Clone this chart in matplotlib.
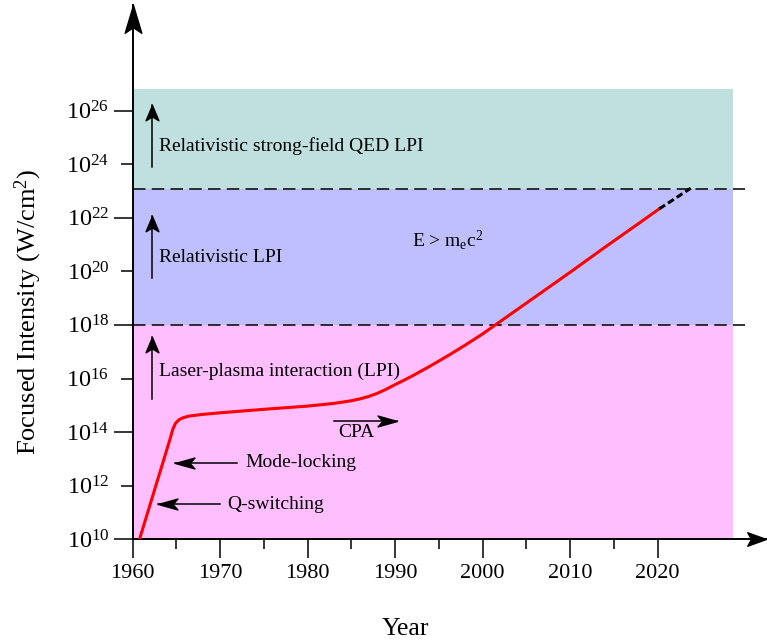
import numpy as np
import matplotlib
matplotlib.use('Agg')
import matplotlib.pyplot as plt
from matplotlib.path import Path
from matplotlib.ticker import FixedLocator, FuncFormatter

plt.rcParams['font.family'] = 'Liberation Serif'
plt.rcParams['mathtext.fontset'] = 'custom'
plt.rcParams['mathtext.rm'] = 'Liberation Serif'
plt.rcParams['mathtext.it'] = 'Liberation Serif:italic'
plt.rcParams['lines.scale_dashes'] = False

# peak focused intensity over time (log10 of W/cm^2)
years = [1960.8, 1964.3, 1964.6, 1964.9, 1965.3, 1965.8, 1966.5, 1968, 1970, 1975,
         1980, 1983, 1985, 1986, 1987, 1988, 1989, 1990, 1991, 1992,
         1994, 1996, 1998, 2000, 2001.3, 2002, 2004, 2006, 2008, 2010,
         2012, 2014, 2016, 2018, 2020.2]
log_intensity = [10.0, 13.75, 14.1, 14.32, 14.46, 14.54, 14.6, 14.66, 14.72, 14.85,
                 14.97, 15.07, 15.17, 15.24, 15.33, 15.45, 15.6, 15.77, 15.93, 16.1,
                 16.46, 16.84, 17.24, 17.66, 17.96, 18.12, 18.58, 19.04, 19.5, 19.96,
                 20.43, 20.9, 21.36, 21.82, 22.33]
proj_years = [2020.2, 2023.8]
proj_log_intensity = [22.33, 23.1]

# regime boundaries
lpi_limit = 18.0
qed_limit = 23.08
region_top = 26.8
region_end = 2028.6
line_end = 2030.0

x_major = [1960, 1970, 1980, 1990, 2000, 2010, 2020]
x_minor = [1965, 1975, 1985, 1995, 2005, 2015]
y_major = [10, 14, 18, 22, 26]
y_minor = [12, 16, 20, 24]


def head(angle, hw=0.3, notch=0.75):
    # stealth arrow head with the tip at the origin
    v = np.array([[0, 0], [-1, hw], [-notch, 0], [-1, -hw], [0, 0]])
    c, s = np.cos(np.radians(angle)), np.sin(np.radians(angle))
    v = v @ np.array([[c, s], [-s, c]])
    return Path(v, [Path.MOVETO, Path.LINETO, Path.LINETO, Path.LINETO, Path.CLOSEPOLY])


fig = plt.figure(figsize=(7.67, 6.41), dpi=100)
W, H = 767, 641
x0, x1, y0, y1 = 132.5, 766, 539.3, 5
ax = fig.add_axes([x0 / W, 1 - y0 / H, (x1 - x0) / W, (y0 - y1) / H])
ax.set_yscale('log')
ax.set_xlim(1960, 1960 + (x1 - x0) / 8.75)
ax.set_ylim(1e10, 10 ** (10 + (y0 - y1) / 26.8))

# coloured regimes
ax.fill_between([1960, region_end], 10 ** 10, 10 ** lpi_limit, color='#ffbfff', lw=0, zorder=0)
ax.fill_between([1960, region_end], 10 ** lpi_limit, 10 ** qed_limit, color='#bfbfff', lw=0, zorder=0)
ax.fill_between([1960, region_end], 10 ** qed_limit, 10 ** region_top, color='#bfe0de', lw=0, zorder=0)
for lim in [lpi_limit, qed_limit]:
    ax.plot([1960, line_end], [10 ** lim] * 2, color='#111111', lw=1.2, dashes=(9, 4.5), zorder=1)

ax.plot(years, 10 ** np.array(log_intensity), color='#ff0000', lw=2.2, zorder=3,
        solid_joinstyle='round')
ax.plot(proj_years, 10 ** np.array(proj_log_intensity), color='black', lw=2.2,
        dashes=(5, 2.5), zorder=3)

# axes
for s in ['top', 'right']:
    ax.spines[s].set_visible(False)
for s in ['left', 'bottom']:
    ax.spines[s].set_linewidth(1.4)
ax.plot([1], [0], marker=head(0, 0.36, 0.8), ms=27, color='black', transform=ax.transAxes,
        clip_on=False, zorder=5)
ax.plot([0], [1], marker=head(90, 0.3, 0.8), ms=40, color='black', transform=ax.transAxes,
        clip_on=False, zorder=5)

ax.xaxis.set_major_locator(FixedLocator(x_major))
ax.xaxis.set_minor_locator(FixedLocator(x_minor))
ax.yaxis.set_major_locator(FixedLocator([10.0 ** e for e in y_major]))
ax.yaxis.set_minor_locator(FixedLocator([10.0 ** e for e in y_minor]))
fmt = FuncFormatter(lambda v, p: r'$10^{%d}$' % round(np.log10(v)))
ax.yaxis.set_major_formatter(fmt)
ax.yaxis.set_minor_formatter(fmt)
ax.tick_params(axis='x', which='major', length=13.7, width=1.1, labelsize=16, pad=4)
ax.tick_params(axis='x', which='minor', length=7, width=1.1)
ax.tick_params(axis='y', which='major', length=13.7, width=1.1, labelsize=17.5, pad=3)
ax.tick_params(axis='y', which='minor', length=8.6, width=1.1, labelsize=17.5, pad=3 + 13.7 - 8.6)

fig.text(28 / W, 1 - 312 / H, 'Focused Intensity (W/cm$^2$)', rotation=90,
         ha='center', va='center', fontsize=19)
fig.text(405 / W, 1 - 635 / H, 'Year', ha='center', va='baseline', fontsize=18.5)


def arrow(xt, yt, xh, yh, angle, ms, hw):
    ax.plot([xt, xh], [10 ** yt, 10 ** yh], color='black', lw=1.1, zorder=4)
    ax.plot([xh], [10 ** yh], marker=head(angle, hw, 0.75), ms=ms, color='black', zorder=4)


# regime labels
arrow(1962.2, 23.9, 1962.2, 26.2, 90, 22, 0.42)
arrow(1962.2, 19.76, 1962.2, 22.06, 90, 22, 0.42)
arrow(1962.2, 15.22, 1962.2, 17.56, 90, 22, 0.42)
ax.text(1963.0, 10 ** 24.68, 'Relativistic strong-field QED LPI', fontsize=14, va='center')
ax.text(1963.0, 10 ** 20.5, 'Relativistic LPI', fontsize=14, va='center')
ax.text(1963.0, 10 ** 16.25, 'Laser-plasma interaction (LPI)', fontsize=14, va='center')
ax.text(1991.9, 10 ** 21.17, r'E > m$_\mathrm{e}$c$^2$', fontsize=14, va='center')

# milestones
arrow(1983.0, 14.43, 1990.2, 14.43, 0, 28, 0.28)
ax.text(1983.5, 10 ** 13.97, 'CPA', fontsize=14, va='center')
arrow(1971.9, 12.85, 1964.86, 12.85, 180, 28, 0.28)
ax.text(1972.86, 10 ** 12.85, 'Mode-locking', fontsize=14, va='center')
arrow(1970.0, 11.31, 1962.95, 11.31, 180, 28, 0.28)
ax.text(1970.83, 10 ** 11.31, 'Q-switching', fontsize=14, va='center')

fig.savefig('out.png', dpi=100)
